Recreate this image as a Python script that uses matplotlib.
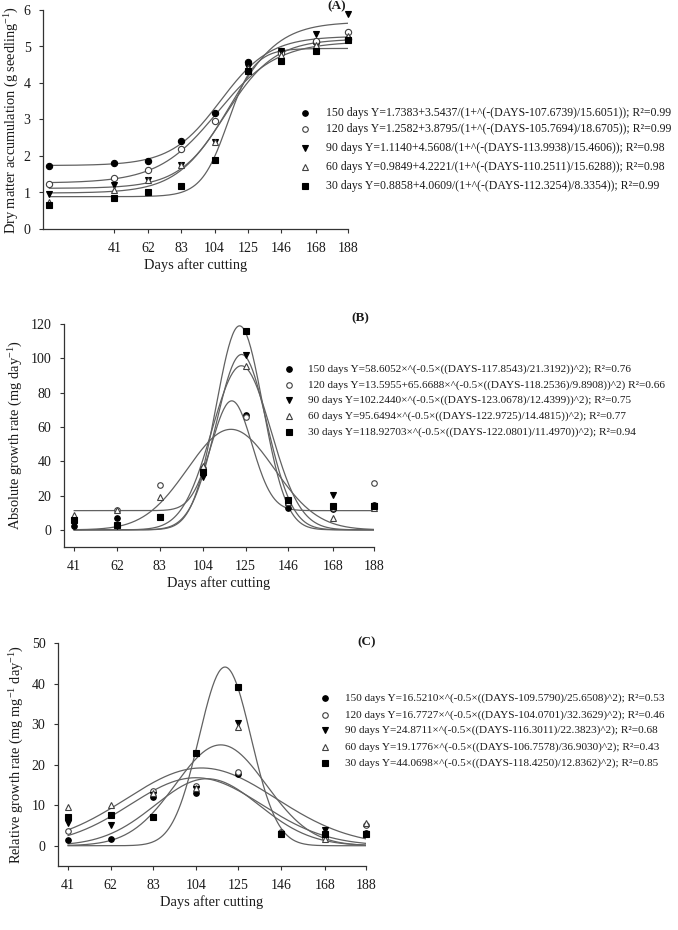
import numpy as np
import matplotlib
matplotlib.use("Agg")
from matplotlib import pyplot as plt
from matplotlib.lines import Line2D

plt.rcParams['font.family'] = ['Liberation Serif', 'DejaVu Serif']
plt.rcParams['mathtext.fontset'] = 'custom'
plt.rcParams['mathtext.rm'] = 'Liberation Serif'
plt.rcParams['mathtext.it'] = 'Liberation Serif:italic'

# ---- data ----
series = ['150', '120', '90', '60', '30']
days_a = [0, 41, 62, 83, 104, 125, 146, 168, 188]
days_bc = [41, 62, 83, 104, 125, 146, 168, 188]
tick_days = [41, 62, 83, 104, 125, 146, 168, 188]

# (A) dry matter accumulation, g seedling-1
dm_150 = [1.72, 1.80, 1.87, 2.41, 3.18, 4.58, 4.87, 5.12, 5.20]
dm_120 = [1.22, 1.40, 1.63, 2.18, 2.95, 4.32, 4.83, 5.15, 5.40]
dm_90 = [0.97, 1.20, 1.33, 1.74, 2.37, 4.45, 4.88, 5.33, 5.89]
dm_60 = [0.75, 1.08, 1.33, 1.74, 2.37, 4.40, 4.77, 5.05, 5.30]
dm_30 = [0.65, 0.86, 1.01, 1.17, 1.89, 4.32, 4.61, 4.89, 5.18]

# (B) absolute growth rate, mg day-1
agr_150 = [2.2, 7.0, 7.5, 35.0, 67.0, 13.0, 12.0, 14.5]
agr_120 = [6.6, 11.8, 26.0, 36.0, 65.6, 15.0, 12.5, 27.5]
agr_90 = [4.0, 2.5, 7.5, 31.0, 101.9, 14.0, 20.3, 14.0]
agr_60 = [8.5, 11.5, 19.0, 37.0, 95.6, 16.0, 7.0, 13.0]
agr_30 = [5.5, 2.8, 7.6, 34.0, 115.7, 17.3, 14.0, 14.0]

# (C) relative growth rate, mg mg-1 day-1
rgr_150 = [1.4, 1.6, 12.1, 13.1, 17.6, 2.8, 2.5, 3.1]
rgr_120 = [3.6, 7.5, 13.6, 14.7, 18.3, 3.5, 2.0, 5.2]
rgr_90 = [5.5, 5.1, 12.5, 14.0, 30.2, 3.0, 4.0, 3.0]
rgr_60 = [9.6, 10.0, 13.1, 14.3, 29.4, 3.3, 1.7, 5.5]
rgr_30 = [7.2, 7.6, 7.0, 22.8, 39.1, 2.9, 3.0, 2.8]

# fitted curves: base, amplitude, centre, width
sig_a = [(1.7383, 3.5437, 107.6739, 15.6051),
         (1.2582, 3.8795, 105.7694, 18.6705),
         (1.1140, 4.5608, 113.9938, 15.4606),
         (0.9849, 4.2221, 110.2511, 15.6288),
         (0.8858, 4.0609, 112.3254, 8.3354)]
gau_b = [(0.0, 58.6052, 117.8543, 21.3192),
         (11.2, 64.0, 118.2536, 9.8908),
         (0.0, 102.2440, 123.0678, 12.4399),
         (0.0, 95.6494, 122.9725, 14.4815),
         (0.0, 118.92703, 122.0801, 11.4970)]
gau_c = [(0.0, 16.5210, 109.5790, 25.6508),
         (0.0, 16.7727, 104.0701, 32.3629),
         (0.0, 24.8711, 116.3011, 22.3823),
         (0.0, 19.1776, 106.7578, 36.9030),
         (0.0, 44.0698, 118.4250, 12.8362)]

labels_a = ["150 days Y=1.7383+3.5437/(1+^(-(DAYS-107.6739)/15.6051)); R²=0.99",
            "120 days Y=1.2582+3.8795/(1+^(-(DAYS-105.7694)/18.6705)); R²=0.99",
            "90 days Y=1.1140+4.5608/(1+^(-(DAYS-113.9938)/15.4606)); R²=0.98",
            "60 days Y=0.9849+4.2221/(1+^(-(DAYS-110.2511)/15.6288)); R²=0.98",
            "30 days Y=0.8858+4.0609/(1+^(-(DAYS-112.3254)/8.3354)); R²=0.99"]
labels_b = ["150 days Y=58.6052×^(-0.5×((DAYS-117.8543)/21.3192))^2); R²=0.76",
            "120 days Y=13.5955+65.6688×^(-0.5×((DAYS-118.2536)/9.8908))^2) R²=0.66",
            "90 days Y=102.2440×^(-0.5×((DAYS-123.0678)/12.4399))^2); R²=0.75",
            "60 days Y=95.6494×^(-0.5×((DAYS-122.9725)/14.4815))^2); R²=0.77",
            "30 days Y=118.92703×^(-0.5×((DAYS-122.0801)/11.4970))^2); R²=0.94"]
labels_c = ["150 days Y=16.5210×^(-0.5×((DAYS-109.5790)/25.6508)^2); R²=0.53",
            "120 days Y=16.7727×^(-0.5×((DAYS-104.0701)/32.3629)^2); R²=0.46",
            "90 days Y=24.8711×^(-0.5×((DAYS-116.3011)/22.3823)^2); R²=0.68",
            "60 days Y=19.1776×^(-0.5×((DAYS-106.7578)/36.9030)^2); R²=0.43",
            "30 days Y=44.0698×^(-0.5×((DAYS-118.4250)/12.8362)^2); R²=0.85"]

# marker styles for 150, 120, 90, 60, 30 days
styles = [dict(marker='o', mfc='black', mec='black'),
          dict(marker='o', mfc='white', mec='0.25'),
          dict(marker='v', mfc='black', mec='black'),
          dict(marker='^', mfc='white', mec='0.25'),
          dict(marker='s', mfc='black', mec='black')]

W, H = 678, 930
fig = plt.figure(figsize=(W / 100, H / 100), dpi=100)
TXT = '0.1'
CURVE = '0.38'


def px_axes(left, right, top, bottom):
    return fig.add_axes([left / W, 1 - bottom / H, (right - left) / W, (bottom - top) / H])


def style_axes(ax):
    for s in ['top', 'right']:
        ax.spines[s].set_visible(False)
    for s in ['left', 'bottom']:
        ax.spines[s].set_color('0.2')
        ax.spines[s].set_linewidth(0.9)
    ax.tick_params(direction='out', length=3, width=0.8, color='0.2',
                   labelsize=10, labelcolor=TXT, pad=6)
    ax.set_xticks(tick_days)
    ax.set_xlabel('Days after cutting', fontsize=10.4, color=TXT, labelpad=3)


# the equations run to the right edge in the original; kept just inside it here
def legend_rows(mx, tx, rows, labels, fs):
    for st, lab, y in zip(styles, labels, rows):
        fig.add_artist(Line2D([mx / W], [1 - y / H], transform=fig.transFigure,
                              ls='none', ms=4, mew=0.8, **st))
        fig.text(tx / W, 1 - y / H, lab, fontsize=fs, color=TXT, va='center', ha='left')


# ---- (A) ----
ax = px_axes(43, 348, 10, 229)
xa = np.linspace(0, 188, 300)
for (b, a, x0, c) in sig_a:
    ax.plot(xa, b + a / (1 + np.exp(-(xa - x0) / c)), color=CURVE, lw=0.9)
for st, y in zip(styles, [dm_150, dm_120, dm_90, dm_60, dm_30]):
    ax.plot(days_a, y, ls='none', ms=4.5, mew=0.8, clip_on=False, **st)
ax.set_xlim(-4, 188)
ax.set_ylim(0, 6)
ax.set_yticks(range(0, 7))
style_axes(ax)
ax.set_ylabel('Dry matter accumulation (g seedling$^{-1}$)', fontsize=10.4, color=TXT, labelpad=2)
fig.text(337 / W, 1 - 0.5 / H, '(A)', fontsize=9.5, fontweight='bold', color=TXT, ha='center', va='top')
legend_rows(305, 326, [113, 129, 148, 167, 186], labels_a, 8.45)

# ---- (B) ----
ax = px_axes(64, 374, 324, 547)
xb = np.linspace(41, 188, 300)
for (b, a, x0, s) in gau_b:
    ax.plot(xb, b + a * np.exp(-0.5 * ((xb - x0) / s) ** 2), color=CURVE, lw=0.9)
for st, y in zip(styles, [agr_150, agr_120, agr_90, agr_60, agr_30]):
    ax.plot(days_bc, y, ls='none', ms=4, mew=0.8, clip_on=False, **st)
ax.set_xlim(36, 188)
ax.set_ylim(-10, 120)
ax.set_yticks(range(0, 121, 20))
style_axes(ax)
ax.set_ylabel('Absolute growth rate (mg day$^{-1}$)', fontsize=10.4, color=TXT, labelpad=4)
fig.text(360 / W, 1 - 318 / H, '(B)', fontsize=9.5, fontweight='bold', color=TXT, ha='center', va='center')
legend_rows(289, 308, [369, 385, 400, 416, 432], labels_b, 8.1)

# ---- (C) ----
ax = px_axes(58, 366, 643, 866)
xc = np.linspace(41, 188, 300)
for (b, a, x0, s) in gau_c:
    ax.plot(xc, b + a * np.exp(-0.5 * ((xc - x0) / s) ** 2), color=CURVE, lw=0.9)
for st, y in zip(styles, [rgr_150, rgr_120, rgr_90, rgr_60, rgr_30]):
    ax.plot(days_bc, y, ls='none', ms=4, mew=0.8, clip_on=False, **st)
ax.set_xlim(36, 188)
ax.set_ylim(-5, 50)
ax.set_yticks(range(0, 51, 10))
style_axes(ax)
ax.set_ylabel('Relative growth rate (mg mg$^{-1}$ day$^{-1}$)', fontsize=10.4, color=TXT, labelpad=4)
fig.text(367 / W, 1 - 642 / H, '(C)', fontsize=9.5, fontweight='bold', color=TXT, ha='center', va='center')
legend_rows(325, 345, [698, 715, 730, 747, 763], labels_c, 8.15)

fig.savefig('out.png', dpi=100)
